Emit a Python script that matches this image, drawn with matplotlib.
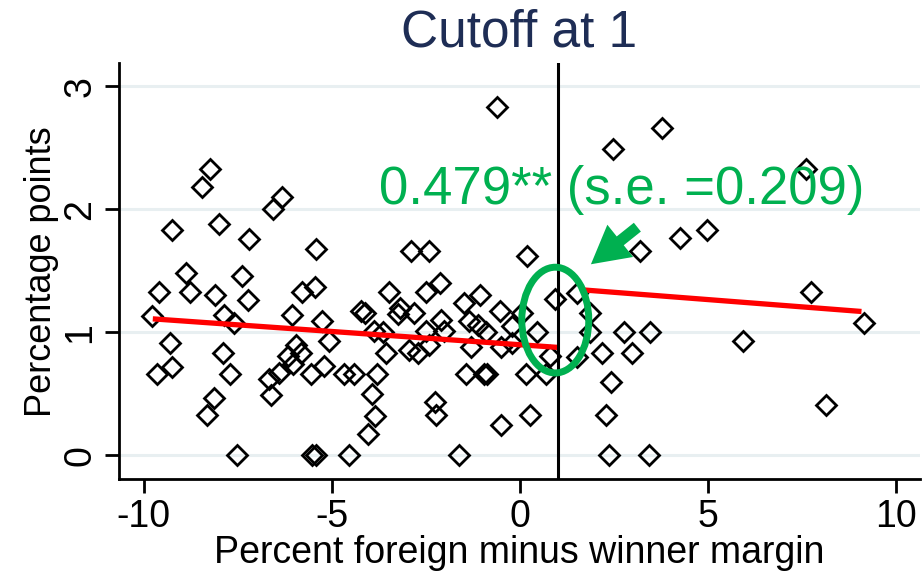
import numpy as np
import matplotlib
matplotlib.use('Agg')
import matplotlib.pyplot as plt
from matplotlib.patches import Ellipse, FancyArrowPatch

plt.rcParams['font.family'] = ['Liberation Sans', 'DejaVu Sans']
plt.rcParams['axes.unicode_minus'] = False

GREEN = '#00b050'
NAVY = '#1e2d55'
GRID = '#e8eff1'

# ---------------------------------------------------------------- data
x_pts = [-8.23, -8.44, -6.33, -6.57, -9.24, -8.00, -7.19, -5.42, -8.89, -7.38,
         -9.60, -8.76, -8.10, -7.23, -5.80, -5.44, -9.77, -7.88, -7.59, -6.07,
         -5.26, -5.08, -9.29, -7.89, -9.25, -9.66, -7.72, -5.95, -6.17, -5.82,
         -6.04, -6.41, -6.68, -6.61, -5.55, -5.20, -8.12, -8.32, -7.53, -5.52,
         -5.42, -4.54, -3.49, -2.49, -2.13, -1.49, -1.07, -4.23, -4.11, -3.19,
         -3.25, -2.81, -0.54, 0.06, 0.93, -3.87, -3.65, -2.50, -2.10, -2.02,
         -1.35, -1.11, -0.91, -0.20, 0.46, -3.56, -2.94, -2.72, -2.41, -1.31,
         -0.51, -0.20, 0.81, -4.67, -4.40, -3.79, -1.44, -0.95, -0.87, 0.15,
         0.68, -3.93, -2.25, -2.22, -3.85, -4.05, -0.51, 0.28, -1.62, -0.62,
         -2.90, -2.41, 0.19,
         3.20, 1.52, 1.85, 1.85, 2.78, 3.47, 1.53, 2.17, 2.98, 2.43,
         3.77, 2.47, 7.60, 4.97, 4.26, 7.75, 9.14, 5.94, 2.29, 8.15,
         2.36, 3.42]
y_pts = [2.33, 2.18, 2.10, 2.00, 1.83, 1.88, 1.76, 1.68, 1.48, 1.46,
         1.33, 1.33, 1.30, 1.26, 1.33, 1.37, 1.13, 1.14, 1.08, 1.14,
         1.09, 0.93, 0.91, 0.83, 0.72, 0.66, 0.66, 0.90, 0.81, 0.83,
         0.74, 0.67, 0.62, 0.49, 0.66, 0.73, 0.47, 0.33, 0.00, 0.00,
         0.00, 0.00, 1.33, 1.33, 1.40, 1.24, 1.30, 1.17, 1.16, 1.20,
         1.15, 1.16, 1.17, 1.16, 1.27, 1.01, 1.00, 1.01, 1.10, 1.01,
         1.09, 1.06, 1.00, 1.05, 1.00, 0.83, 0.86, 0.83, 0.90, 0.88,
         0.88, 0.91, 0.81, 0.66, 0.66, 0.66, 0.66, 0.66, 0.66, 0.66,
         0.66, 0.50, 0.43, 0.33, 0.32, 0.17, 0.25, 0.33, 0.00, 2.83,
         1.66, 1.66, 1.62,
         1.66, 1.32, 1.16, 1.00, 1.00, 1.00, 0.80, 0.83, 0.83, 0.60,
         2.66, 2.49, 2.33, 1.83, 1.77, 1.33, 1.08, 0.93, 0.33, 0.41,
         0.00, 0.00]

cutoff = 1.0
fit_left_x = [-9.76, 1.0]
fit_left_y = [1.11, 0.878]
fit_right_x = [1.70, 9.08]
fit_right_y = [1.345, 1.17]

estimate_text = '0.479** (s.e. =0.209)'

# ---------------------------------------------------------------- figure
fig = plt.figure(figsize=(9.22, 5.74), dpi=100)
ax = fig.add_axes([0.129, 0.165, 0.869, 0.725])

ax.set_xlim(-10.66, 10.64)
ax.set_ylim(-0.195, 3.19)

for yv in [0, 1, 2, 3]:
    ax.axhline(yv, color=GRID, linewidth=2.2, zorder=0)

ax.plot(x_pts, y_pts, linestyle='none', marker='D', markersize=10,
        markerfacecolor='none', markeredgecolor='black', markeredgewidth=2.0, zorder=2)

ax.plot(fit_left_x, fit_left_y, color='#ff0000', linewidth=3.8, zorder=3, solid_capstyle='butt')
ax.plot(fit_right_x, fit_right_y, color='#ff0000', linewidth=3.8, zorder=3, solid_capstyle='butt')

ax.axvline(cutoff, color='black', linewidth=2.2, zorder=4)

ax.add_patch(Ellipse((0.94, 1.10), width=1.78, height=0.86, fill=False,
                     edgecolor=GREEN, linewidth=5, zorder=5))
ax.add_patch(FancyArrowPatch((3.18, 1.87), (1.83, 1.54),
                             arrowstyle='simple,head_length=1.0,head_width=1.1,tail_width=0.3',
                             mutation_scale=27, color=GREEN, linewidth=0, zorder=5))

ax.text(-3.74, 2.044, estimate_text, color=GREEN, fontsize=38,
        ha='left', va='baseline', zorder=6)

# ---------------------------------------------------------------- axes styling
for side in ['top', 'right']:
    ax.spines[side].set_visible(False)
for side in ['left', 'bottom']:
    ax.spines[side].set_linewidth(2.0)
    ax.spines[side].set_color('black')

ax.set_xticks([-10, -5, 0, 5, 10])
ax.set_yticks([0, 1, 2, 3])
ax.tick_params(axis='both', length=10, width=2.0, labelsize=27, colors='black')
ax.tick_params(axis='x', pad=4)
ax.tick_params(axis='y', pad=5)
plt.setp(ax.get_yticklabels(), rotation=90, va='center', ha='right')

ax.set_xlabel('Percent foreign minus winner margin', fontsize=27, labelpad=0)
ax.set_ylabel('Percentage points', fontsize=26, labelpad=2)
ax.set_title('Cutoff at 1', fontsize=37, color=NAVY, pad=12)

fig.savefig('out.png', dpi=100)
